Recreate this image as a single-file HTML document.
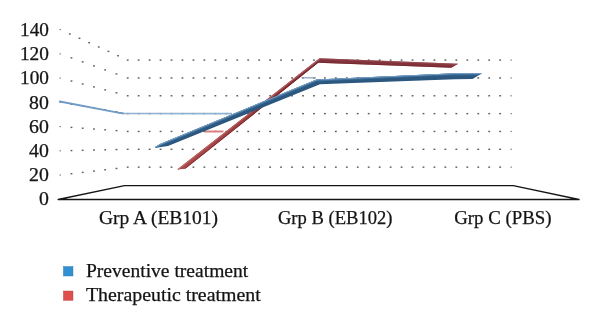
<!DOCTYPE html>
<html><head><meta charset="utf-8"><style>
html,body{margin:0;padding:0;background:#fff;}
svg{display:block;will-change:transform;}
text{font-family:"Liberation Serif",serif;font-size:18px;fill:#141414;stroke:#141414;stroke-width:0.25px;}
</style></head><body>
<svg width="600" height="329" viewBox="0 0 600 329">
<defs>
<clipPath id="cb"><polygon points="154.8,147.2 160.0,144.1 316.5,79.6 455.0,73.2 482.0,73.3 472.6,79.0 455.0,79.3 340.0,83.6 320.0,84.2 168.0,146.1 156.0,147.7"/></clipPath>
<clipPath id="cr"><polygon points="177.3,169.4 319.6,58.3 458.3,63.8 451.5,67.7 318.1,62.8 185.6,168.6"/></clipPath>
<linearGradient id="rs" gradientUnits="userSpaceOnUse" x1="180" y1="168" x2="318" y2="60">
<stop offset="0" stop-color="#ac4a4a"/><stop offset="0.45" stop-color="#9c3d3f"/><stop offset="0.75" stop-color="#863036"/><stop offset="1" stop-color="#7e2e35"/></linearGradient>
</defs>
<rect width="600" height="329" fill="#fff"/>
<g fill="#5a5a5a"><rect x="59.55" y="174.46" width="1.3" height="1.2" fill="#777"/><rect x="70.55" y="173.04" width="1.8" height="1.4"/><rect x="81.80" y="171.72" width="1.8" height="1.4"/><rect x="93.05" y="170.40" width="1.8" height="1.4"/><rect x="104.30" y="169.08" width="1.8" height="1.4"/><rect x="115.55" y="167.76" width="1.8" height="1.4"/><rect x="126.80" y="166.44" width="1.8" height="1.4"/><rect x="137.75" y="166.44" width="1.8" height="1.4"/><rect x="148.71" y="166.44" width="1.8" height="1.4"/><rect x="159.66" y="166.44" width="1.8" height="1.4"/><rect x="170.62" y="166.44" width="1.8" height="1.4"/><rect x="181.57" y="166.44" width="1.8" height="1.4"/><rect x="192.53" y="166.44" width="1.8" height="1.4"/><rect x="203.48" y="166.44" width="1.8" height="1.4"/><rect x="214.44" y="166.44" width="1.8" height="1.4"/><rect x="225.40" y="166.44" width="1.8" height="1.4"/><rect x="236.35" y="166.44" width="1.8" height="1.4"/><rect x="247.30" y="166.44" width="1.8" height="1.4"/><rect x="258.26" y="166.44" width="1.8" height="1.4"/><rect x="269.22" y="166.44" width="1.8" height="1.4"/><rect x="280.17" y="166.44" width="1.8" height="1.4"/><rect x="291.12" y="166.44" width="1.8" height="1.4"/><rect x="302.08" y="166.44" width="1.8" height="1.4"/><rect x="313.04" y="166.44" width="1.8" height="1.4"/><rect x="323.99" y="166.44" width="1.8" height="1.4"/><rect x="334.95" y="166.44" width="1.8" height="1.4"/><rect x="345.90" y="166.44" width="1.8" height="1.4"/><rect x="356.86" y="166.44" width="1.8" height="1.4"/><rect x="367.81" y="166.44" width="1.8" height="1.4"/><rect x="378.77" y="166.44" width="1.8" height="1.4"/><rect x="389.72" y="166.44" width="1.8" height="1.4"/><rect x="400.68" y="166.44" width="1.8" height="1.4"/><rect x="411.63" y="166.44" width="1.8" height="1.4"/><rect x="422.59" y="166.44" width="1.8" height="1.4"/><rect x="433.54" y="166.44" width="1.8" height="1.4"/><rect x="444.50" y="166.44" width="1.8" height="1.4"/><rect x="455.45" y="166.44" width="1.8" height="1.4"/><rect x="466.41" y="166.44" width="1.8" height="1.4"/><rect x="477.36" y="166.44" width="1.8" height="1.4"/><rect x="488.31" y="166.44" width="1.8" height="1.4"/><rect x="499.27" y="166.44" width="1.8" height="1.4"/><rect x="510.48" y="166.54" width="1.3" height="1.2" fill="#777"/><rect x="59.55" y="150.22" width="1.3" height="1.2" fill="#777"/><rect x="70.55" y="149.87" width="1.8" height="1.4"/><rect x="81.80" y="149.61" width="1.8" height="1.4"/><rect x="93.05" y="149.36" width="1.8" height="1.4"/><rect x="104.30" y="149.11" width="1.8" height="1.4"/><rect x="115.55" y="148.85" width="1.8" height="1.4"/><rect x="126.80" y="148.60" width="1.8" height="1.4"/><rect x="137.75" y="148.60" width="1.8" height="1.4"/><rect x="148.71" y="148.60" width="1.8" height="1.4"/><rect x="159.66" y="148.60" width="1.8" height="1.4"/><rect x="170.62" y="148.60" width="1.8" height="1.4"/><rect x="181.57" y="148.60" width="1.8" height="1.4"/><rect x="192.53" y="148.60" width="1.8" height="1.4"/><rect x="203.48" y="148.60" width="1.8" height="1.4"/><rect x="214.44" y="148.60" width="1.8" height="1.4"/><rect x="225.40" y="148.60" width="1.8" height="1.4"/><rect x="236.35" y="148.60" width="1.8" height="1.4"/><rect x="247.30" y="148.60" width="1.8" height="1.4"/><rect x="258.26" y="148.60" width="1.8" height="1.4"/><rect x="269.22" y="148.60" width="1.8" height="1.4"/><rect x="280.17" y="148.60" width="1.8" height="1.4"/><rect x="291.12" y="148.60" width="1.8" height="1.4"/><rect x="302.08" y="148.60" width="1.8" height="1.4"/><rect x="313.04" y="148.60" width="1.8" height="1.4"/><rect x="323.99" y="148.60" width="1.8" height="1.4"/><rect x="334.95" y="148.60" width="1.8" height="1.4"/><rect x="345.90" y="148.60" width="1.8" height="1.4"/><rect x="356.86" y="148.60" width="1.8" height="1.4"/><rect x="367.81" y="148.60" width="1.8" height="1.4"/><rect x="378.77" y="148.60" width="1.8" height="1.4"/><rect x="389.72" y="148.60" width="1.8" height="1.4"/><rect x="400.68" y="148.60" width="1.8" height="1.4"/><rect x="411.63" y="148.60" width="1.8" height="1.4"/><rect x="422.59" y="148.60" width="1.8" height="1.4"/><rect x="433.54" y="148.60" width="1.8" height="1.4"/><rect x="444.50" y="148.60" width="1.8" height="1.4"/><rect x="455.45" y="148.60" width="1.8" height="1.4"/><rect x="466.41" y="148.60" width="1.8" height="1.4"/><rect x="477.36" y="148.60" width="1.8" height="1.4"/><rect x="488.31" y="148.60" width="1.8" height="1.4"/><rect x="499.27" y="148.60" width="1.8" height="1.4"/><rect x="510.48" y="148.70" width="1.3" height="1.2" fill="#777"/><rect x="59.55" y="125.98" width="1.3" height="1.2" fill="#777"/><rect x="70.55" y="126.69" width="1.8" height="1.4"/><rect x="81.80" y="127.51" width="1.8" height="1.4"/><rect x="93.05" y="128.32" width="1.8" height="1.4"/><rect x="104.30" y="129.13" width="1.8" height="1.4"/><rect x="115.55" y="129.95" width="1.8" height="1.4"/><rect x="126.80" y="130.76" width="1.8" height="1.4"/><rect x="137.75" y="130.76" width="1.8" height="1.4"/><rect x="148.71" y="130.76" width="1.8" height="1.4"/><rect x="159.66" y="130.76" width="1.8" height="1.4"/><rect x="170.62" y="130.76" width="1.8" height="1.4"/><rect x="181.57" y="130.76" width="1.8" height="1.4"/><rect x="192.53" y="130.76" width="1.8" height="1.4"/><rect x="203.48" y="130.76" width="1.8" height="1.4"/><rect x="214.44" y="130.76" width="1.8" height="1.4"/><rect x="225.40" y="130.76" width="1.8" height="1.4"/><rect x="236.35" y="130.76" width="1.8" height="1.4"/><rect x="247.30" y="130.76" width="1.8" height="1.4"/><rect x="258.26" y="130.76" width="1.8" height="1.4"/><rect x="269.22" y="130.76" width="1.8" height="1.4"/><rect x="280.17" y="130.76" width="1.8" height="1.4"/><rect x="291.12" y="130.76" width="1.8" height="1.4"/><rect x="302.08" y="130.76" width="1.8" height="1.4"/><rect x="313.04" y="130.76" width="1.8" height="1.4"/><rect x="323.99" y="130.76" width="1.8" height="1.4"/><rect x="334.95" y="130.76" width="1.8" height="1.4"/><rect x="345.90" y="130.76" width="1.8" height="1.4"/><rect x="356.86" y="130.76" width="1.8" height="1.4"/><rect x="367.81" y="130.76" width="1.8" height="1.4"/><rect x="378.77" y="130.76" width="1.8" height="1.4"/><rect x="389.72" y="130.76" width="1.8" height="1.4"/><rect x="400.68" y="130.76" width="1.8" height="1.4"/><rect x="411.63" y="130.76" width="1.8" height="1.4"/><rect x="422.59" y="130.76" width="1.8" height="1.4"/><rect x="433.54" y="130.76" width="1.8" height="1.4"/><rect x="444.50" y="130.76" width="1.8" height="1.4"/><rect x="455.45" y="130.76" width="1.8" height="1.4"/><rect x="466.41" y="130.76" width="1.8" height="1.4"/><rect x="477.36" y="130.76" width="1.8" height="1.4"/><rect x="488.31" y="130.76" width="1.8" height="1.4"/><rect x="499.27" y="130.76" width="1.8" height="1.4"/><rect x="510.48" y="130.86" width="1.3" height="1.2" fill="#777"/><rect x="59.55" y="101.74" width="1.3" height="1.2" fill="#777"/><rect x="70.55" y="103.52" width="1.8" height="1.4"/><rect x="81.80" y="105.40" width="1.8" height="1.4"/><rect x="93.05" y="107.28" width="1.8" height="1.4"/><rect x="104.30" y="109.16" width="1.8" height="1.4"/><rect x="115.55" y="111.04" width="1.8" height="1.4"/><rect x="126.80" y="112.92" width="1.8" height="1.4"/><rect x="137.75" y="112.92" width="1.8" height="1.4"/><rect x="148.71" y="112.92" width="1.8" height="1.4"/><rect x="159.66" y="112.92" width="1.8" height="1.4"/><rect x="170.62" y="112.92" width="1.8" height="1.4"/><rect x="181.57" y="112.92" width="1.8" height="1.4"/><rect x="192.53" y="112.92" width="1.8" height="1.4"/><rect x="203.48" y="112.92" width="1.8" height="1.4"/><rect x="214.44" y="112.92" width="1.8" height="1.4"/><rect x="225.40" y="112.92" width="1.8" height="1.4"/><rect x="236.35" y="112.92" width="1.8" height="1.4"/><rect x="247.30" y="112.92" width="1.8" height="1.4"/><rect x="258.26" y="112.92" width="1.8" height="1.4"/><rect x="269.22" y="112.92" width="1.8" height="1.4"/><rect x="280.17" y="112.92" width="1.8" height="1.4"/><rect x="291.12" y="112.92" width="1.8" height="1.4"/><rect x="302.08" y="112.92" width="1.8" height="1.4"/><rect x="313.04" y="112.92" width="1.8" height="1.4"/><rect x="323.99" y="112.92" width="1.8" height="1.4"/><rect x="334.95" y="112.92" width="1.8" height="1.4"/><rect x="345.90" y="112.92" width="1.8" height="1.4"/><rect x="356.86" y="112.92" width="1.8" height="1.4"/><rect x="367.81" y="112.92" width="1.8" height="1.4"/><rect x="378.77" y="112.92" width="1.8" height="1.4"/><rect x="389.72" y="112.92" width="1.8" height="1.4"/><rect x="400.68" y="112.92" width="1.8" height="1.4"/><rect x="411.63" y="112.92" width="1.8" height="1.4"/><rect x="422.59" y="112.92" width="1.8" height="1.4"/><rect x="433.54" y="112.92" width="1.8" height="1.4"/><rect x="444.50" y="112.92" width="1.8" height="1.4"/><rect x="455.45" y="112.92" width="1.8" height="1.4"/><rect x="466.41" y="112.92" width="1.8" height="1.4"/><rect x="477.36" y="112.92" width="1.8" height="1.4"/><rect x="488.31" y="112.92" width="1.8" height="1.4"/><rect x="499.27" y="112.92" width="1.8" height="1.4"/><rect x="510.48" y="113.02" width="1.3" height="1.2" fill="#777"/><rect x="59.55" y="77.50" width="1.3" height="1.2" fill="#777"/><rect x="70.55" y="80.35" width="1.8" height="1.4"/><rect x="81.80" y="83.29" width="1.8" height="1.4"/><rect x="93.05" y="86.24" width="1.8" height="1.4"/><rect x="104.30" y="89.19" width="1.8" height="1.4"/><rect x="115.55" y="92.13" width="1.8" height="1.4"/><rect x="126.80" y="95.08" width="1.8" height="1.4"/><rect x="137.75" y="95.08" width="1.8" height="1.4"/><rect x="148.71" y="95.08" width="1.8" height="1.4"/><rect x="159.66" y="95.08" width="1.8" height="1.4"/><rect x="170.62" y="95.08" width="1.8" height="1.4"/><rect x="181.57" y="95.08" width="1.8" height="1.4"/><rect x="192.53" y="95.08" width="1.8" height="1.4"/><rect x="203.48" y="95.08" width="1.8" height="1.4"/><rect x="214.44" y="95.08" width="1.8" height="1.4"/><rect x="225.40" y="95.08" width="1.8" height="1.4"/><rect x="236.35" y="95.08" width="1.8" height="1.4"/><rect x="247.30" y="95.08" width="1.8" height="1.4"/><rect x="258.26" y="95.08" width="1.8" height="1.4"/><rect x="269.22" y="95.08" width="1.8" height="1.4"/><rect x="280.17" y="95.08" width="1.8" height="1.4"/><rect x="291.12" y="95.08" width="1.8" height="1.4"/><rect x="302.08" y="95.08" width="1.8" height="1.4"/><rect x="313.04" y="95.08" width="1.8" height="1.4"/><rect x="323.99" y="95.08" width="1.8" height="1.4"/><rect x="334.95" y="95.08" width="1.8" height="1.4"/><rect x="345.90" y="95.08" width="1.8" height="1.4"/><rect x="356.86" y="95.08" width="1.8" height="1.4"/><rect x="367.81" y="95.08" width="1.8" height="1.4"/><rect x="378.77" y="95.08" width="1.8" height="1.4"/><rect x="389.72" y="95.08" width="1.8" height="1.4"/><rect x="400.68" y="95.08" width="1.8" height="1.4"/><rect x="411.63" y="95.08" width="1.8" height="1.4"/><rect x="422.59" y="95.08" width="1.8" height="1.4"/><rect x="433.54" y="95.08" width="1.8" height="1.4"/><rect x="444.50" y="95.08" width="1.8" height="1.4"/><rect x="455.45" y="95.08" width="1.8" height="1.4"/><rect x="466.41" y="95.08" width="1.8" height="1.4"/><rect x="477.36" y="95.08" width="1.8" height="1.4"/><rect x="488.31" y="95.08" width="1.8" height="1.4"/><rect x="499.27" y="95.08" width="1.8" height="1.4"/><rect x="510.48" y="95.18" width="1.3" height="1.2" fill="#777"/><rect x="59.55" y="53.26" width="1.3" height="1.2" fill="#777"/><rect x="70.55" y="57.17" width="1.8" height="1.4"/><rect x="81.80" y="61.19" width="1.8" height="1.4"/><rect x="93.05" y="65.20" width="1.8" height="1.4"/><rect x="104.30" y="69.21" width="1.8" height="1.4"/><rect x="115.55" y="73.23" width="1.8" height="1.4"/><rect x="126.80" y="77.24" width="1.8" height="1.4"/><rect x="137.75" y="77.24" width="1.8" height="1.4"/><rect x="148.71" y="77.24" width="1.8" height="1.4"/><rect x="159.66" y="77.24" width="1.8" height="1.4"/><rect x="170.62" y="77.24" width="1.8" height="1.4"/><rect x="181.57" y="77.24" width="1.8" height="1.4"/><rect x="192.53" y="77.24" width="1.8" height="1.4"/><rect x="203.48" y="77.24" width="1.8" height="1.4"/><rect x="214.44" y="77.24" width="1.8" height="1.4"/><rect x="225.40" y="77.24" width="1.8" height="1.4"/><rect x="236.35" y="77.24" width="1.8" height="1.4"/><rect x="247.30" y="77.24" width="1.8" height="1.4"/><rect x="258.26" y="77.24" width="1.8" height="1.4"/><rect x="269.22" y="77.24" width="1.8" height="1.4"/><rect x="280.17" y="77.24" width="1.8" height="1.4"/><rect x="291.12" y="77.24" width="1.8" height="1.4"/><rect x="302.08" y="77.24" width="1.8" height="1.4"/><rect x="313.04" y="77.24" width="1.8" height="1.4"/><rect x="323.99" y="77.24" width="1.8" height="1.4"/><rect x="334.95" y="77.24" width="1.8" height="1.4"/><rect x="345.90" y="77.24" width="1.8" height="1.4"/><rect x="356.86" y="77.24" width="1.8" height="1.4"/><rect x="367.81" y="77.24" width="1.8" height="1.4"/><rect x="378.77" y="77.24" width="1.8" height="1.4"/><rect x="389.72" y="77.24" width="1.8" height="1.4"/><rect x="400.68" y="77.24" width="1.8" height="1.4"/><rect x="411.63" y="77.24" width="1.8" height="1.4"/><rect x="422.59" y="77.24" width="1.8" height="1.4"/><rect x="433.54" y="77.24" width="1.8" height="1.4"/><rect x="444.50" y="77.24" width="1.8" height="1.4"/><rect x="455.45" y="77.24" width="1.8" height="1.4"/><rect x="466.41" y="77.24" width="1.8" height="1.4"/><rect x="477.36" y="77.24" width="1.8" height="1.4"/><rect x="488.31" y="77.24" width="1.8" height="1.4"/><rect x="499.27" y="77.24" width="1.8" height="1.4"/><rect x="510.48" y="77.34" width="1.3" height="1.2" fill="#777"/><rect x="59.55" y="29.02" width="1.3" height="1.2" fill="#777"/><rect x="68.94" y="33.27" width="1.8" height="1.4"/><rect x="78.59" y="37.63" width="1.8" height="1.4"/><rect x="88.23" y="41.98" width="1.8" height="1.4"/><rect x="97.87" y="46.34" width="1.8" height="1.4"/><rect x="107.51" y="50.69" width="1.8" height="1.4"/><rect x="117.16" y="55.05" width="1.8" height="1.4"/><rect x="126.80" y="59.40" width="1.8" height="1.4"/><rect x="137.75" y="59.40" width="1.8" height="1.4"/><rect x="148.71" y="59.40" width="1.8" height="1.4"/><rect x="159.66" y="59.40" width="1.8" height="1.4"/><rect x="170.62" y="59.40" width="1.8" height="1.4"/><rect x="181.57" y="59.40" width="1.8" height="1.4"/><rect x="192.53" y="59.40" width="1.8" height="1.4"/><rect x="203.48" y="59.40" width="1.8" height="1.4"/><rect x="214.44" y="59.40" width="1.8" height="1.4"/><rect x="225.40" y="59.40" width="1.8" height="1.4"/><rect x="236.35" y="59.40" width="1.8" height="1.4"/><rect x="247.30" y="59.40" width="1.8" height="1.4"/><rect x="258.26" y="59.40" width="1.8" height="1.4"/><rect x="269.22" y="59.40" width="1.8" height="1.4"/><rect x="280.17" y="59.40" width="1.8" height="1.4"/><rect x="291.12" y="59.40" width="1.8" height="1.4"/><rect x="302.08" y="59.40" width="1.8" height="1.4"/><rect x="313.04" y="59.40" width="1.8" height="1.4"/><rect x="323.99" y="59.40" width="1.8" height="1.4"/><rect x="334.95" y="59.40" width="1.8" height="1.4"/><rect x="345.90" y="59.40" width="1.8" height="1.4"/><rect x="356.86" y="59.40" width="1.8" height="1.4"/><rect x="367.81" y="59.40" width="1.8" height="1.4"/><rect x="378.77" y="59.40" width="1.8" height="1.4"/><rect x="389.72" y="59.40" width="1.8" height="1.4"/><rect x="400.68" y="59.40" width="1.8" height="1.4"/><rect x="411.63" y="59.40" width="1.8" height="1.4"/><rect x="422.59" y="59.40" width="1.8" height="1.4"/><rect x="433.54" y="59.40" width="1.8" height="1.4"/><rect x="444.50" y="59.40" width="1.8" height="1.4"/><rect x="455.45" y="59.40" width="1.8" height="1.4"/><rect x="466.41" y="59.40" width="1.8" height="1.4"/><rect x="477.36" y="59.40" width="1.8" height="1.4"/><rect x="488.31" y="59.40" width="1.8" height="1.4"/><rect x="499.27" y="59.40" width="1.8" height="1.4"/><rect x="510.48" y="59.50" width="1.3" height="1.2" fill="#777"/></g>
<polygon points="58.2,199.5 124.5,185.6 513.3,185.6 579,199.5" fill="none" stroke="#151515" stroke-width="1.4" stroke-linejoin="round"/>
<polyline points="118,112.6 123,113.4 232,113.6" fill="none" stroke="#90b2d2" stroke-width="1.6" stroke-linejoin="round"/>
<polyline points="59.8,101.5 118,112.6 123,113.4" fill="none" stroke="#6f9bc4" stroke-width="1.9" stroke-linecap="round" stroke-linejoin="round"/>
<line x1="301.5" y1="77.8" x2="316" y2="77.8" stroke="#8aa8c4" stroke-width="1.3"/>
<line x1="205" y1="131.5" x2="223.5" y2="131.5" stroke="#d88080" stroke-width="2"/>
<polygon points="177.3,169.4 319.6,58.3 458.3,63.8 451.5,67.7 318.1,62.8 185.6,168.6" fill="#82323a"/>
<polygon points="177.3,169.4 319.6,58.3 318.1,62.8 185.6,168.6" fill="url(#rs)"/>
<g clip-path="url(#cr)">
<polyline points="177.3,169.4 319.6,58.3" fill="none" stroke="#d07c7a" stroke-width="2.2" stroke-opacity="0.6"/>
<polyline points="319.6,58.3 458.3,63.8" fill="none" stroke="#a0545a" stroke-width="2.2" stroke-opacity="0.6"/>
<polyline points="185.6,168.6 318.1,62.8 451.5,67.7" fill="none" stroke="#6a1c22" stroke-width="1.4" stroke-opacity="0.6"/>
</g>
<polygon points="154.8,147.2 160.0,144.1 316.5,79.6 455.0,73.2 482.0,73.3 472.6,79.0 455.0,79.3 340.0,83.6 320.0,84.2 168.0,146.1 156.0,147.7" fill="#2c5880"/>
<g clip-path="url(#cb)">
<polyline points="154.8,147.2 160.0,144.1 316.5,79.6 455.0,73.2 482.0,73.3" fill="none" stroke="#40709c" stroke-width="3.8"/>
<polyline points="154.8,147.2 160.0,144.1 316.5,79.6 455.0,73.2 482.0,73.3" fill="none" stroke="#7ea7cc" stroke-width="1.4"/>
</g>
<g><text x="48.9" y="204.6" text-anchor="end" textLength="9.9" lengthAdjust="spacingAndGlyphs">0</text><text x="48.9" y="180.6" text-anchor="end" textLength="19.8" lengthAdjust="spacingAndGlyphs">20</text><text x="48.9" y="156.5" text-anchor="end" textLength="19.8" lengthAdjust="spacingAndGlyphs">40</text><text x="48.9" y="132.5" text-anchor="end" textLength="19.8" lengthAdjust="spacingAndGlyphs">60</text><text x="48.9" y="108.5" text-anchor="end" textLength="19.8" lengthAdjust="spacingAndGlyphs">80</text><text x="48.9" y="84.4" text-anchor="end" textLength="28.9" lengthAdjust="spacingAndGlyphs">100</text><text x="48.9" y="60.4" text-anchor="end" textLength="29.0" lengthAdjust="spacingAndGlyphs">120</text><text x="48.9" y="36.4" text-anchor="end" textLength="28.9" lengthAdjust="spacingAndGlyphs">140</text></g>
<text x="99.0" y="223.8" style="font-size:18.8px" textLength="119" lengthAdjust="spacingAndGlyphs">Grp A (EB101)</text>
<text x="277.9" y="223.8" style="font-size:18.8px" textLength="114.6" lengthAdjust="spacingAndGlyphs">Grp B (EB102)</text>
<text x="454.2" y="223.8" style="font-size:18.8px" textLength="97.3" lengthAdjust="spacingAndGlyphs">Grp C (PBS)</text>
<rect x="63.4" y="266.5" width="9.6" height="9.5" fill="#3190d0" stroke="#2a78b0" stroke-width="0.4"/>
<rect x="63.4" y="291.0" width="9.6" height="9.4" fill="#dc4f4c" stroke="#b83e3c" stroke-width="0.4"/>
<text x="86.0" y="276.6" textLength="162.2" lengthAdjust="spacingAndGlyphs">Preventive treatment</text>
<text x="86.0" y="301" textLength="174.7" lengthAdjust="spacingAndGlyphs">Therapeutic treatment</text>
</svg>
</body></html>
